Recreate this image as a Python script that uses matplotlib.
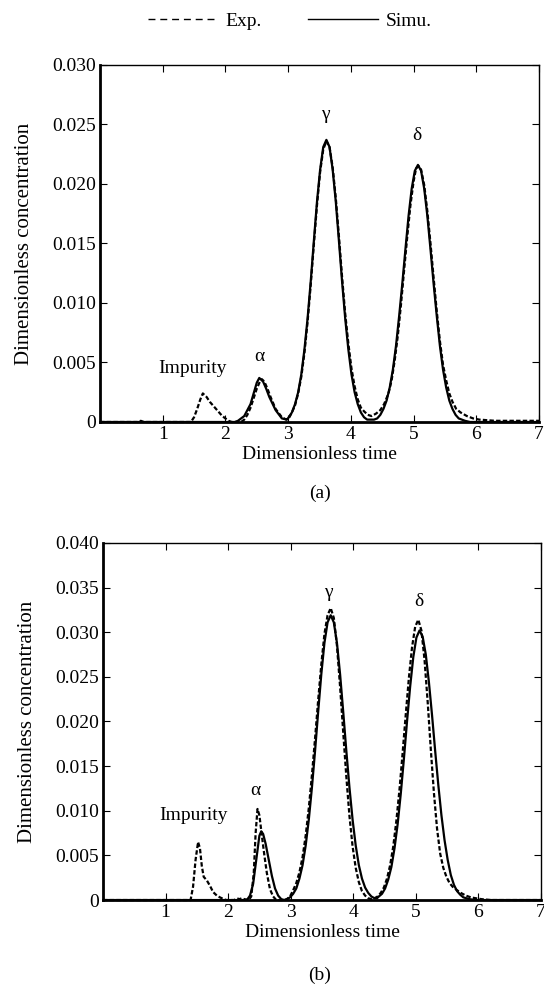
import matplotlib
matplotlib.use('Agg')
import matplotlib.pyplot as plt
from matplotlib.lines import Line2D
from matplotlib.ticker import FuncFormatter

plt.rcParams['font.family'] = ['Liberation Serif', 'DejaVu Serif']
plt.rcParams['font.size'] = 14

# ---- panel (a) ----
t_a_exp = [0, 0.6, 0.65, 0.7, 1.45, 1.5, 1.55, 1.6, 1.64, 1.7, 1.75, 1.8, 1.85, 1.9, 1.95, 2.0,
           2.05, 2.1, 2.25, 2.3, 2.35, 2.4, 2.45, 2.5, 2.55, 2.58, 2.62, 2.67, 2.72, 2.8, 2.9,
           2.97, 3.02, 3.06, 3.11, 3.16, 3.21, 3.26, 3.31, 3.36, 3.41, 3.46, 3.51, 3.56, 3.61,
           3.66, 3.71, 3.76, 3.81, 3.86, 3.91, 3.96, 4.01, 4.06, 4.11, 4.16, 4.21, 4.27, 4.33,
           4.4, 4.47, 4.53, 4.6, 4.65, 4.7, 4.75, 4.8, 4.85, 4.9, 4.95, 5.0, 5.04, 5.08, 5.12,
           5.17, 5.22, 5.27, 5.32, 5.37, 5.42, 5.47, 5.52, 5.57, 5.62, 5.68, 5.75, 5.85, 5.95,
           6.05, 6.3, 7.0]
c_a_exp = [0, 0, 0.0001, 0, 0, 0.0004, 0.0011, 0.0019, 0.0024, 0.0021, 0.0017, 0.0014, 0.0011,
           0.0008, 0.0005, 0.0003, 0.0001, 0, 0, 0.0002, 0.0006, 0.0012, 0.0020, 0.0028, 0.0034,
           0.0036, 0.0034, 0.0028, 0.0021, 0.0011, 0.0004, 0.0002, 0.0004, 0.0008, 0.0014,
           0.0024, 0.0038, 0.0058, 0.0084, 0.0115, 0.0149, 0.0182, 0.0210, 0.0229, 0.0236,
           0.0231, 0.0214, 0.0188, 0.0156, 0.0122, 0.0091, 0.0066, 0.0045, 0.0030, 0.0019,
           0.0012, 0.0009, 0.0006, 0.0005, 0.0007, 0.0010, 0.0015, 0.0024, 0.0035, 0.0052,
           0.0073, 0.0099, 0.0128, 0.0156, 0.0182, 0.0202, 0.0213, 0.0215, 0.0212, 0.0199,
           0.0177, 0.0150, 0.0121, 0.0093, 0.0068, 0.0048, 0.0035, 0.0024, 0.0017, 0.0011,
           0.0008, 0.0005, 0.0003, 0.0002, 0.0001, 0.0001]

t_a_sim = [0, 2.15, 2.2, 2.3, 2.4, 2.45, 2.5, 2.54, 2.6, 2.65, 2.7, 2.8, 2.9, 2.98, 3.01, 3.06,
           3.11, 3.16, 3.21, 3.26, 3.31, 3.36, 3.41, 3.46, 3.51, 3.56, 3.61, 3.66, 3.71, 3.76,
           3.81, 3.86, 3.91, 3.96, 4.01, 4.06, 4.11, 4.16, 4.21, 4.26, 4.32, 4.37, 4.42, 4.47,
           4.52, 4.57, 4.62, 4.67, 4.72, 4.77, 4.82, 4.87, 4.92, 4.97, 5.02, 5.07, 5.12, 5.17,
           5.22, 5.27, 5.32, 5.37, 5.42, 5.47, 5.52, 5.57, 5.62, 5.67, 5.72, 5.77, 5.82, 5.9, 7.0]
c_a_sim = [0, 0, 0.0001, 0.0005, 0.0015, 0.0024, 0.0033, 0.0037, 0.0034, 0.0028, 0.0021, 0.0010,
           0.0003, 0.0002, 0.0004, 0.0008, 0.0015, 0.0025, 0.0040, 0.0061, 0.0087, 0.0118,
           0.0152, 0.0185, 0.0212, 0.0231, 0.0237, 0.0231, 0.0212, 0.0185, 0.0152, 0.0118,
           0.0087, 0.0061, 0.0040, 0.0025, 0.0015, 0.0008, 0.0004, 0.0002, 0.0002, 0.0002,
           0.0003, 0.0006, 0.0011, 0.0018, 0.0029, 0.0044, 0.0064, 0.0089, 0.0116, 0.0145,
           0.0173, 0.0196, 0.0211, 0.0216, 0.0211, 0.0196, 0.0173, 0.0145, 0.0116, 0.0089,
           0.0064, 0.0044, 0.0029, 0.0018, 0.0011, 0.0006, 0.0003, 0.0002, 0.0001, 0, 0]

# ---- panel (b) ----
t_b_exp = [0, 1.4, 1.44, 1.48, 1.52, 1.55, 1.58, 1.61, 1.66, 1.71, 1.76, 1.82, 1.87, 1.93, 1.97,
           2.1, 2.14, 2.18, 2.22, 2.26, 2.33, 2.37, 2.41, 2.44, 2.47, 2.5, 2.54, 2.58, 2.62,
           2.67, 2.72, 2.77, 2.9, 2.94, 2.99, 3.04, 3.09, 3.14, 3.19, 3.24, 3.29, 3.34, 3.39,
           3.44, 3.49, 3.54, 3.59, 3.64, 3.69, 3.74, 3.79, 3.84, 3.89, 3.94, 3.99, 4.04, 4.09,
           4.14, 4.19, 4.24, 4.29, 4.34, 4.39, 4.44, 4.49, 4.54, 4.59, 4.64, 4.69, 4.74, 4.79,
           4.84, 4.89, 4.94, 4.99, 5.04, 5.09, 5.14, 5.19, 5.24, 5.29, 5.34, 5.39, 5.44, 5.49,
           5.54, 5.6, 5.66, 5.72, 5.8, 5.88, 5.96, 6.05, 6.2, 7.0]
c_b_exp = [0, 0, 0.0015, 0.0045, 0.0065, 0.0058, 0.0038, 0.0026, 0.0022, 0.0016, 0.0009, 0.0005,
           0.0003, 0.0001, 0, 0, 0.0002, 0.0001, 0.0002, 0.0001, 0, 0.0004, 0.0030, 0.0075,
           0.0102, 0.0095, 0.0072, 0.0050, 0.0030, 0.0012, 0.0004, 0, 0, 0.0001, 0.0004, 0.0011,
           0.0019, 0.0031, 0.0048, 0.0072, 0.0103, 0.0140, 0.0181, 0.0224, 0.0264, 0.0298,
           0.0319, 0.0327, 0.0316, 0.0285, 0.0239, 0.0188, 0.0138, 0.0094, 0.0060, 0.0036,
           0.0020, 0.0010, 0.0005, 0.0002, 0.0001, 0.0002, 0.0004, 0.0008, 0.0014, 0.0024,
           0.0039, 0.0060, 0.0089, 0.0124, 0.0165, 0.0208, 0.0249, 0.0283, 0.0306, 0.0314,
           0.0302, 0.0269, 0.0222, 0.0169, 0.0120, 0.0080, 0.0052, 0.0036, 0.0026, 0.0019,
           0.0014, 0.0011, 0.0008, 0.0005, 0.0003, 0.0002, 0.0001, 0, 0]

t_b_sim = [0, 2.3, 2.35, 2.4, 2.45, 2.5, 2.53, 2.56, 2.6, 2.65, 2.7, 2.75, 2.8, 2.85, 2.9, 2.94,
           2.99, 3.04, 3.09, 3.14, 3.19, 3.24, 3.29, 3.34, 3.39, 3.44, 3.49, 3.54, 3.59, 3.64,
           3.69, 3.74, 3.79, 3.84, 3.89, 3.94, 3.99, 4.04, 4.09, 4.14, 4.19, 4.24, 4.29, 4.34,
           4.38, 4.41, 4.46, 4.51, 4.56, 4.61, 4.66, 4.71, 4.76, 4.81, 4.86, 4.91, 4.96, 5.01,
           5.06, 5.11, 5.16, 5.21, 5.26, 5.31, 5.36, 5.41, 5.46, 5.51, 5.56, 5.61, 5.66, 5.71,
           5.76, 5.81, 5.86, 5.95, 7.0]
c_b_sim = [0, 0, 0.0005, 0.0018, 0.0045, 0.0072, 0.0077, 0.0074, 0.0063, 0.0045, 0.0027, 0.0013,
           0.0005, 0.0001, 0, 0.0001, 0.0003, 0.0007, 0.0013, 0.0024, 0.0039, 0.0061, 0.0090,
           0.0126, 0.0167, 0.0211, 0.0253, 0.0288, 0.0311, 0.0319, 0.0311, 0.0288, 0.0253,
           0.0211, 0.0167, 0.0126, 0.0090, 0.0061, 0.0039, 0.0024, 0.0014, 0.0008, 0.0004,
           0.0002, 0.0002, 0.0004, 0.0007, 0.0013, 0.0023, 0.0037, 0.0058, 0.0085, 0.0119,
           0.0158, 0.0200, 0.0239, 0.0272, 0.0294, 0.0302, 0.0295, 0.0275, 0.0244, 0.0207,
           0.0167, 0.0129, 0.0095, 0.0067, 0.0045, 0.0028, 0.0017, 0.0010, 0.0006, 0.0003,
           0.0002, 0.0001, 0, 0]

x_ticks = [1, 2, 3, 4, 5, 6, 7]
peak_labels = ['Impurity', 'α', 'γ', 'δ']

fig = plt.figure(figsize=(5.44, 9.92), dpi=100)
ax_a = fig.add_axes([0.1838, 0.5746, 0.807, 0.36])
ax_b = fig.add_axes([0.1893, 0.0927, 0.805, 0.36])

fmt = FuncFormatter(lambda v, p: '0' if abs(v) < 1e-9 else f'{v:.3f}')


def setup(ax, ymax):
    ax.set_xlim(0, 7)
    ax.set_ylim(0, ymax)
    ax.set_xticks(x_ticks)
    ax.set_yticks([i * 0.005 for i in range(int(round(ymax / 0.005)) + 1)])
    ax.yaxis.set_major_formatter(fmt)
    ax.tick_params(direction='in', top=True, right=True, length=5, width=0.8, pad=3,
                   labelsize=14)
    ax.spines['bottom'].set_linewidth(2.0)
    ax.spines['left'].set_linewidth(2.0)
    ax.spines['top'].set_linewidth(1.0)
    ax.spines['right'].set_linewidth(1.0)
    ax.set_xlabel('Dimensionless time', fontsize=14, labelpad=2)
    ax.set_ylabel('Dimensionless concentration', fontsize=15, labelpad=13)


for ax, te, ce, ts, cs in [(ax_a, t_a_exp, c_a_exp, t_a_sim, c_a_sim),
                           (ax_b, t_b_exp, c_b_exp, t_b_sim, c_b_sim)]:
    ax.plot(te, ce, color='black', lw=1.6, ls=(0, (2, 1)), clip_on=False, zorder=3)
    ax.plot(ts, cs, color='black', lw=1.6, ls='-', zorder=2)

setup(ax_a, 0.030)
setup(ax_b, 0.040)

# peak labels
for ax, pos in [(ax_a, [(1.48, 0.0045), (2.54, 0.0055), (3.6, 0.0258), (5.05, 0.0241)]),
                (ax_b, [(1.44, 0.0095), (2.43, 0.0123), (3.61, 0.0345), (5.05, 0.0334)])]:
    for lab, (x, y) in zip(peak_labels, pos):
        ax.text(x, y, lab, ha='center', va='center', fontsize=14)

fig.text(0.588, 0.503, '(a)', ha='center', va='center', fontsize=14)
fig.text(0.588, 0.017, '(b)', ha='center', va='center', fontsize=14)

handles = [Line2D([], [], color='black', lw=1.0, ls=(0, (5, 3.5))),
           Line2D([], [], color='black', lw=1.0, ls='-')]
fig.legend(handles, ['Exp.', 'Simu.'], loc='center', bbox_to_anchor=(0.533, 0.979),
           ncol=2, frameon=False, handlelength=3.6, handletextpad=0.4,
           columnspacing=2.4, fontsize=14)

fig.savefig('out.png', dpi=100)
